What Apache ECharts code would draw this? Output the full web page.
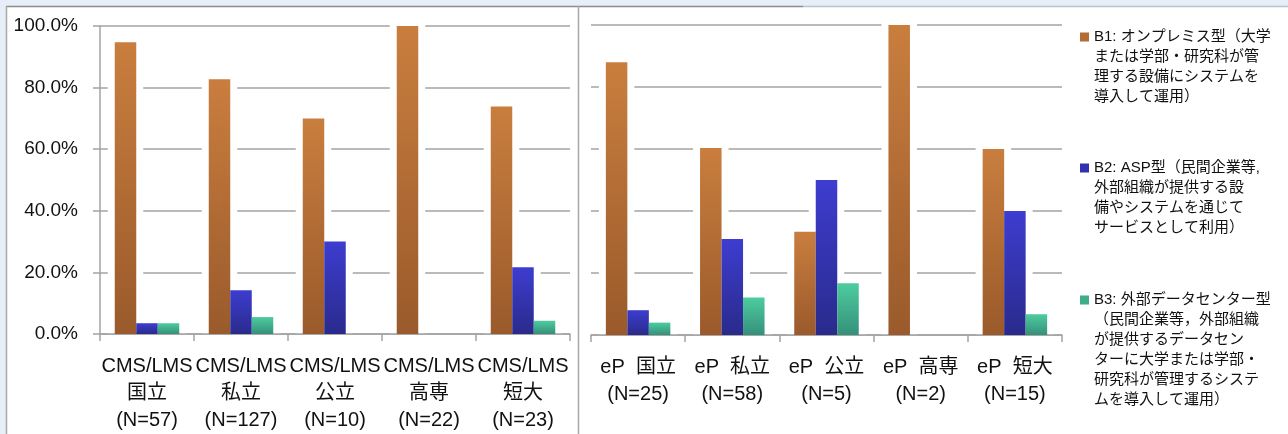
<!DOCTYPE html>
<html>
<head>
<meta charset="utf-8">
<script src="https://cdn.jsdelivr.net/npm/echarts@6/dist/echarts.min.js"></script>
<style>
html,body{margin:0;padding:0;background:#fff;}
#chart{width:1288px;height:434px;}
</style>
</head>
<body>
<div id="chart"></div>
<script>
// ---- data ----
const categoriesLeft = ['CMS/LMS\n国立\n(N=57)', 'CMS/LMS\n私立\n(N=127)', 'CMS/LMS\n公立\n(N=10)', 'CMS/LMS\n高専\n(N=22)', 'CMS/LMS\n短大\n(N=23)'];
const categoriesRight = ['eP  国立\n(N=25)', 'eP  私立\n(N=58)', 'eP  公立\n(N=5)', 'eP  高専\n(N=2)', 'eP  短大\n(N=15)'];
const b1Left = [94.7, 82.7, 70.0, 100.0, 73.9];
const b2Left = [3.5, 14.2, 30.0, 0, 21.7];
const b3Left = [3.5, 5.5, 0, 0, 4.3];
const b1Right = [88.0, 60.3, 33.3, 100.0, 60.0];
const b2Right = [8.0, 31.0, 50.0, 0, 40.0];
const b3Right = [4.0, 12.1, 16.7, 0, 6.7];
const yTicks = [0, 20, 40, 60, 80, 100];
const seriesNames = ['B1', 'B2', 'B3'];
const legendLabels = [
  'B1: オンプレミス型（大学\nまたは学部・研究科が管\n理する設備にシステムを\n導入して運用）',
  'B2: ASP型（民間企業等,\n外部組織が提供する設\n備やシステムを通じて\nサービスとして利用）',
  'B3: 外部データセンター型\n（民間企業等，外部組織\nが提供するデータセン\nターに大学または学部・\n研究科が管理するシステ\nムを導入して運用）'
];

// ---- styles ----
const FONT = "'Liberation Sans', 'Noto Sans CJK JP', sans-serif";
const grad = (top, bottom) => new echarts.graphic.LinearGradient(0, 0, 0, 1, [{offset: 0, color: top}, {offset: 1, color: bottom}]);
const colors = [grad('#c97e3e', '#9a5a2b'), grad('#3d3dd0', '#2a2a8c'), grad('#4dcc9f', '#35907a')];
const legendIconColors = ['#b56c34', '#3232b0', '#3fae88'];
const gridColor = '#a3a3a3';
const LH = 20;
const BAR_W = 21.5;
const GLOW = 7;

const chart = echarts.init(document.getElementById('chart'), null, {renderer: 'canvas'});

function xAxis(gridIndex, data, margin) {
  return {
    type: 'category', gridIndex, data, z: 2,
    axisLine: {show: true, lineStyle: {color: gridColor, width: 1.5}},
    axisTick: {show: true, length: 7, lineStyle: {color: gridColor, width: 1.5}},
    axisLabel: {interval: 0, margin, fontSize: 20, lineHeight: 27, color: '#111', fontFamily: FONT}
  };
}
function yAxis(gridIndex, showLabels) {
  return {
    type: 'value', gridIndex, min: yTicks[0], max: yTicks[yTicks.length - 1], interval: 20, z: 0,
    axisLine: {show: showLabels, lineStyle: {color: gridColor, width: 1.5}},
    axisTick: {show: showLabels, length: 7, lineStyle: {color: gridColor, width: 1.5}},
    axisLabel: {show: showLabels, margin: 22, fontSize: 19, color: '#111', fontFamily: FONT,
      padding: [6, 0, 0, 0], formatter: v => v.toFixed(1) + '%'},
    splitLine: {show: true, lineStyle: {color: gridColor, width: 1.5}}
  };
}
function bar(name, idx, gi, data) {
  return {
    type: 'bar', name, xAxisIndex: gi, yAxisIndex: gi, data, z: 3,
    barWidth: BAR_W, barGap: '0%',
    itemStyle: {color: colors[idx]},
    emphasis: {disabled: true}
  };
}
// white glow behind each bar (interrupts the gridlines like the original)
function halo(idx, gi, data) {
  const offset = (idx - 1) * BAR_W;
  return {
    type: 'custom', xAxisIndex: gi, yAxisIndex: gi, z: 1, silent: true,
    data: data.map((v, i) => [i, v]).filter(d => d[1] > 0),
    encode: {x: 0, y: 1},
    renderItem: (params, api) => {
      const top = api.coord([api.value(0), api.value(1)]);
      const base = api.coord([api.value(0), 0]);
      const x = top[0] + offset - BAR_W / 2 - GLOW;
      const y = top[1] - GLOW;
      return {type: 'rect', shape: {x, y, width: BAR_W + 2 * GLOW, height: base[1] - y},
              style: {fill: '#ffffff'}};
    }
  };
}

// Legend: one component per item; icon path keeps the square beside the first text line
const legendFirstLineTop = [27, 158, 290];
const legends = legendLabels.map((label, i) => {
  const n = label.split('\n').length;
  const h = n * LH;
  const a = LH / 2 - 4.5, b = LH / 2 + 4.5;
  return {
    left: 1080,
    top: legendFirstLineTop[i],
    orient: 'vertical', padding: 0, selectedMode: false,
    itemWidth: 9, itemHeight: h,
    icon: 'path://M0,0L9,0M0,' + a + 'L9,' + a + 'L9,' + b + 'L0,' + b + 'ZM0,' + h + 'L9,' + h,
    data: [{name: seriesNames[i], itemStyle: {color: legendIconColors[i]}}],
    formatter: () => label,
    textStyle: {fontSize: 15, lineHeight: LH, color: '#111', fontFamily: FONT}
  };
});

const option = {
  animation: false,
  backgroundColor: '#e6eef7',
  graphic: [
    {type: 'rect', z: -10, shape: {x: 6, y: 6, width: 1282, height: 428}, style: {fill: '#ffffff'}},
    {type: 'line', z: -9, shape: {x1: 6, y1: 6.5, x2: 803, y2: 6.5}, style: {stroke: '#8c8c8c', lineWidth: 1.5}},
    {type: 'line', z: -9, shape: {x1: 803, y1: 6.5, x2: 1288, y2: 6.5}, style: {stroke: '#b8c3cf', lineWidth: 1.5}},
    {type: 'line', z: -9, shape: {x1: 6.5, y1: 6, x2: 6.5, y2: 434}, style: {stroke: '#a8a8a8', lineWidth: 1.5}},
    {type: 'line', z: -9, shape: {x1: 578.5, y1: 6, x2: 578.5, y2: 434}, style: {stroke: '#a8a8a8', lineWidth: 1.5}}
  ],
  legend: legends,
  grid: [
    {left: 100, top: 26, width: 470, height: 311},
    {left: 591, top: 25, width: 471, height: 310}
  ],
  xAxis: [xAxis(0, categoriesLeft, 19), xAxis(1, categoriesRight, 19)],
  yAxis: [yAxis(0, true), yAxis(1, false)],
  series: [
    halo(0, 0, b1Left), halo(1, 0, b2Left), halo(2, 0, b3Left),
    halo(0, 1, b1Right), halo(1, 1, b2Right), halo(2, 1, b3Right),
    bar(seriesNames[0], 0, 0, b1Left),
    bar(seriesNames[1], 1, 0, b2Left),
    bar(seriesNames[2], 2, 0, b3Left),
    bar(seriesNames[0], 0, 1, b1Right),
    bar(seriesNames[1], 1, 1, b2Right),
    bar(seriesNames[2], 2, 1, b3Right)
  ]
};
chart.setOption(option);
</script>
</body>
</html>
